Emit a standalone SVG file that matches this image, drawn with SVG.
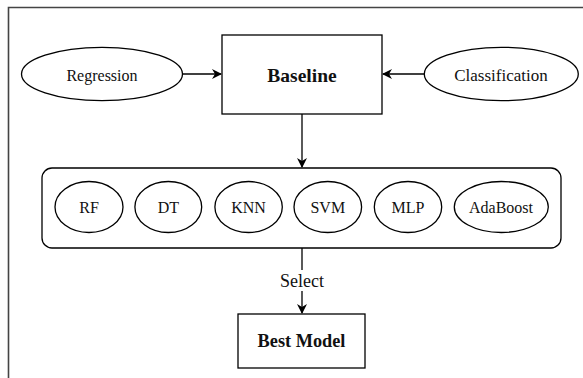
<svg xmlns="http://www.w3.org/2000/svg" width="583" height="378" viewBox="0 0 583 378">
<style>
.s{fill:#fff;stroke:#000;stroke-width:1.3}
.t{font-family:"Liberation Serif","Times New Roman",serif;font-size:16px;fill:#111;text-anchor:middle}
.b{font-weight:bold}
.c{fill:none;stroke:#000;stroke-width:1.3}
</style>
<defs>
<marker id="ah" viewBox="0 0 10 10" refX="9" refY="5" markerWidth="10" markerHeight="10" markerUnits="userSpaceOnUse" orient="auto">
<path d="M0,0 L10,5 L0,10 L3,5 Z" fill="#000"/>
</marker>
</defs>
<rect width="583" height="378" fill="#fff"/>
<path d="M8.5,378 V7.5 H583" fill="none" stroke="#444" stroke-width="1.6"/>
<g id="connectors">
<line class="c" x1="183" y1="74" x2="221" y2="74" marker-end="url(#ah)"/>
<line class="c" x1="424" y1="74" x2="383" y2="74" marker-end="url(#ah)"/>
<line class="c" x1="302" y1="114" x2="302" y2="167" marker-end="url(#ah)"/>
<line class="c" x1="302" y1="248" x2="302" y2="270"/>
<line class="c" x1="302" y1="291" x2="302" y2="313" marker-end="url(#ah)"/>
<text class="t" x="302" y="287" style="font-size:18px">Select</text>
</g>
<g id="regression"><ellipse class="s" cx="102" cy="74" rx="80.5" ry="26.7"/><text class="t" x="102" y="80.5">Regression</text></g>
<g id="classification"><ellipse class="s" cx="501.3" cy="74" rx="77" ry="26.7"/><text class="t" x="501" y="80.5" style="font-size:17px">Classification</text></g>
<g id="baseline"><rect class="s" x="222" y="35" width="160" height="79"/><text class="t b" x="302" y="81.5" style="font-size:19.5px">Baseline</text></g>
<g id="models">
<rect class="s" x="42" y="168" width="519" height="80" rx="10"/>
<g id="rf"><ellipse class="s" cx="89" cy="207" rx="34" ry="25.5"/><text class="t" x="89" y="213">RF</text></g>
<g id="dt"><ellipse class="s" cx="168.3" cy="207" rx="33.4" ry="25.5"/><text class="t" x="168.3" y="213">DT</text></g>
<g id="knn"><ellipse class="s" cx="248.6" cy="207" rx="33.7" ry="25.5"/><text class="t" x="248.6" y="213">KNN</text></g>
<g id="svm"><ellipse class="s" cx="327.8" cy="207" rx="33.8" ry="25.5"/><text class="t" x="327.8" y="213">SVM</text></g>
<g id="mlp"><ellipse class="s" cx="408" cy="207" rx="33.7" ry="25.5"/><text class="t" x="408" y="213">MLP</text></g>
<g id="adaboost"><ellipse class="s" cx="501.3" cy="207" rx="47" ry="25.5"/><text class="t" x="501" y="213">AdaBoost</text></g>
</g>
<g id="best"><rect class="s" x="238" y="314" width="127" height="54"/><text class="t b" x="301.5" y="347" style="font-size:18.3px">Best Model</text></g>
</svg>
